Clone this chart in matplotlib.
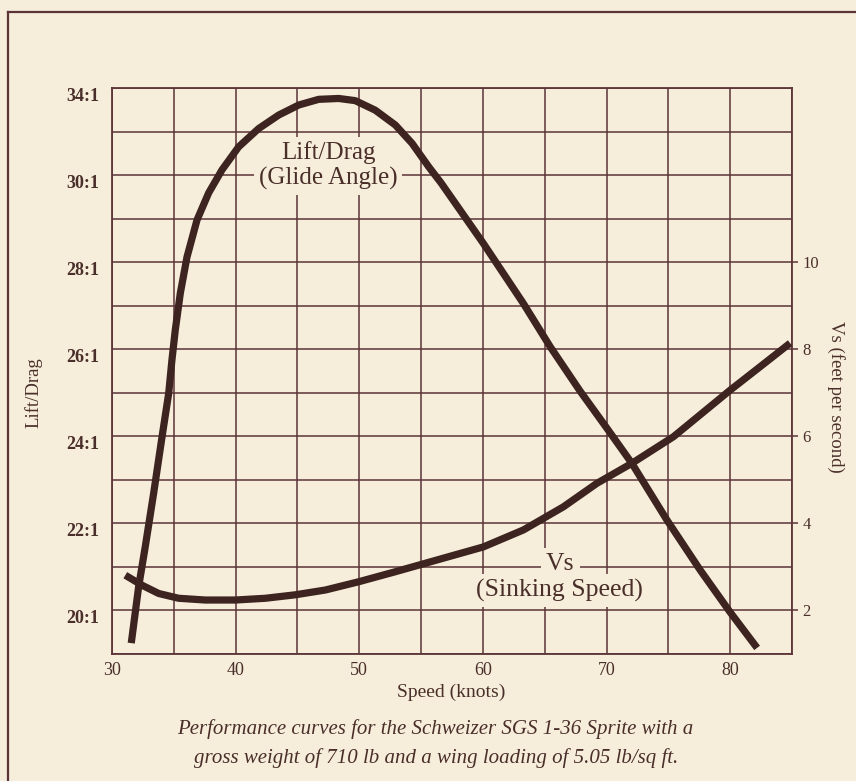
import matplotlib

matplotlib.use("Agg")

import matplotlib.pyplot as plt
from matplotlib.lines import Line2D
from matplotlib.ticker import MultipleLocator

# Courbe finesse (Lift/Drag) - valeurs en unites de l'axe gauche
ld_speed = [31.56, 32.16, 32.69, 33.37, 34.05, 34.59, 34.85, 35.12, 35.53, 36.07,
            36.88, 37.82, 38.90, 40.25, 41.87, 43.49, 45.11, 46.72, 48.34, 49.68,
            51.30, 52.92, 54.27, 55.62, 56.62, 60.04, 63.28, 65.44, 67.86, 70.02,
            72.05, 74.88, 77.57, 80.00, 82.18]
ld_value = [19.25, 20.55, 21.46, 22.69, 23.99, 24.99, 25.75, 26.44, 27.29, 28.12,
            28.97, 29.59, 30.12, 30.65, 31.07, 31.38, 31.61, 31.74, 31.76, 31.71,
            31.49, 31.15, 30.73, 30.19, 29.82, 28.43, 27.05, 26.06, 25.04, 24.19,
            23.38, 22.08, 20.93, 19.96, 19.14]

# Vitesse de chute (Vs, ft/s) - axe droit
vs_speed = [31.08, 32.43, 33.78, 35.40, 37.55, 39.98, 42.40, 44.83, 47.26, 49.96,
            52.92, 56.54, 60.04, 63.28, 66.51, 69.22, 72.05, 75.41, 80.00, 82.43,
            84.85]
vs_value = [2.81, 2.58, 2.39, 2.28, 2.24, 2.24, 2.28, 2.36, 2.47, 2.66,
            2.89, 3.18, 3.46, 3.85, 4.38, 4.92, 5.38, 5.99, 7.06, 7.60,
            8.14]

x_ticks = [30, 40, 50, 60, 70, 80]
ld_ticks = [20, 22, 24, 26, 28, 30, 32]
ld_tick_labels = ["20:1", "22:1", "24:1", "26:1", "28:1", "30:1", "34:1"]
vs_ticks = [2, 4, 6, 8, 10]

paper = "#f6eedb"
grid_col = "#5b3438"
curve_col = "#3d2420"
text_col = "#4a2e2a"
serif = ["Liberation Serif", "DejaVu Serif"]

plt.rcParams["font.family"] = serif

fig = plt.figure(figsize=(8.56, 7.81), dpi=100, facecolor=paper)
ax = fig.add_axes([0.1308, 0.1626, 0.7944, 0.7247])
ax.set_facecolor(paper)

ax.set_xlim(30, 85)
ax.set_ylim(19, 32)
ax.xaxis.set_minor_locator(MultipleLocator(5))
ax.yaxis.set_minor_locator(MultipleLocator(1))
ax.set_xticks(x_ticks)
ax.set_yticks(ld_ticks, ld_tick_labels)
ax.grid(True, which="both", color=grid_col, linewidth=1.1)
ax.tick_params(which="both", length=0, colors=text_col)
ax.tick_params(axis="x", pad=5.5, labelsize=13)
ax.tick_params(axis="y", pad=9, labelsize=13)
for lab in ax.get_yticklabels():
    lab.set_fontweight("bold")
    lab.set_verticalalignment("top")
for sp in ax.spines.values():
    sp.set_color(grid_col)
    sp.set_linewidth(1.3)

ax.plot(ld_speed, ld_value, color=curve_col, linewidth=5.2,
        solid_capstyle="butt", zorder=5)

ax2 = ax.twinx()
ax2.set_ylim(1, 14)
ax2.set_yticks(vs_ticks)
ax2.tick_params(axis="y", length=4, width=1.1, color=grid_col,
                labelcolor=text_col, labelsize=12, pad=3.5)
for sp in ax2.spines.values():
    sp.set_visible(False)
ax2.plot(vs_speed, vs_value, color=curve_col, linewidth=5.2,
         solid_capstyle="butt", zorder=5)

box = dict(boxstyle="square,pad=0.2", facecolor=paper, edgecolor="none")
ax.text(47.48, 30.22, "Lift/Drag\n(Glide Angle)", ha="center", va="center",
        fontsize=18, color=text_col, linespacing=1.12, bbox=box, zorder=3)
label_kw = dict(ha="center", va="baseline", fontsize=18.5, color=text_col,
                bbox=box, zorder=3)
ax2.text(66.25, 2.93, "Vs", **label_kw)
ax2.text(66.17, 2.32, "(Sinking Speed)", **label_kw)

fig.text(0.527, 0.113, "Speed (knots)", ha="center", va="center",
         fontsize=14, color=text_col)
fig.text(0.039, 0.497, "Lift/Drag", ha="center", va="center", rotation=90,
         fontsize=13.5, color=text_col)
fig.text(0.977, 0.492, "Vs (feet per second)", ha="center", va="center",
         rotation=-90, fontsize=13.5, color=text_col)
fig.text(0.509, 0.048,
         "Performance curves for the Schweizer SGS 1-36 Sprite with a\n"
         "gross weight of 710 lb and a wing loading of 5.05 lb/sq ft.",
         ha="center", va="center", fontsize=15, style="italic",
         color=text_col, linespacing=1.55)

# cadre de la page
fig.add_artist(Line2D([0.009, 0.009], [0.0, 0.985], transform=fig.transFigure,
                      color=grid_col, linewidth=1.6))
fig.add_artist(Line2D([0.009, 1.0], [0.985, 0.985], transform=fig.transFigure,
                      color=grid_col, linewidth=1.6))

fig.savefig("out.png", dpi=100, facecolor=paper)
